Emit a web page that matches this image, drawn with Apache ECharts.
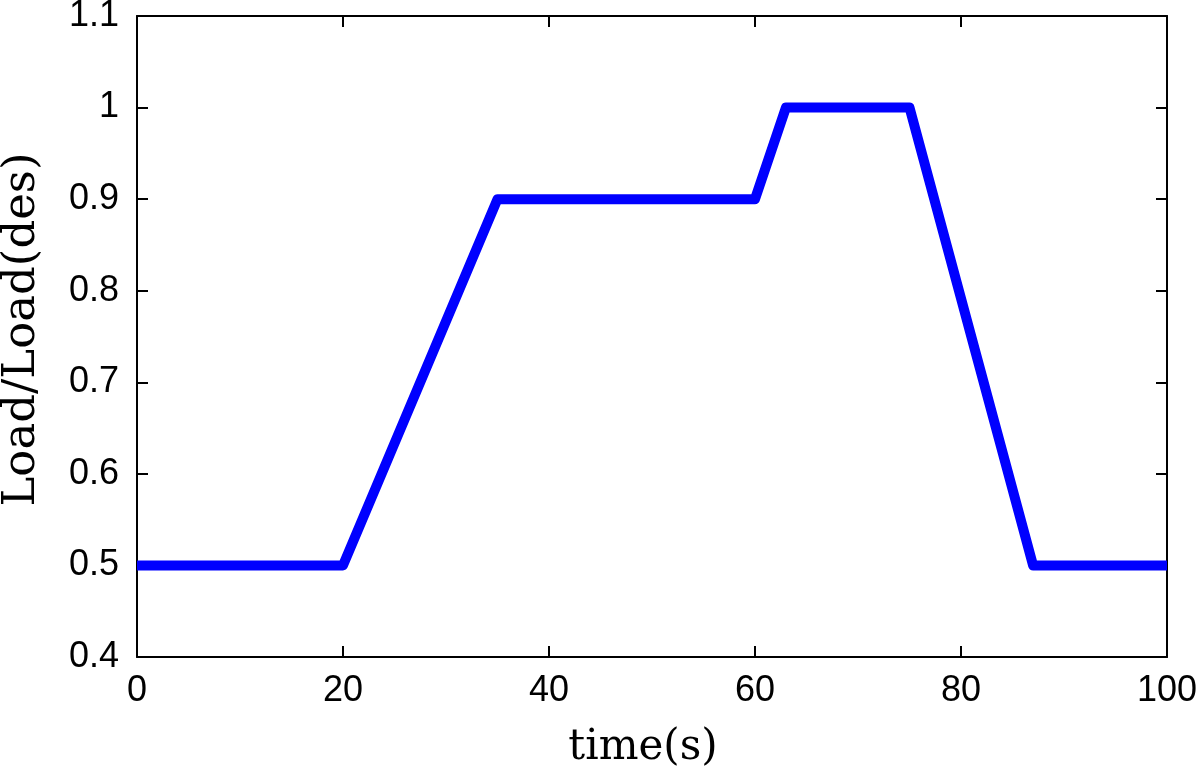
<!DOCTYPE html>
<html>
<head>
<meta charset="utf-8">
<script src="https://cdn.jsdelivr.net/npm/echarts@6/dist/echarts.min.js"></script>
<style>
html,body{margin:0;padding:0;background:#fff;}
#chart{width:1200px;height:779px;}
</style>
</head>
<body>
<div id="chart"></div>
<script>
// Breakpoints (time in s, normalized load)
const timeValues = [0, 20, 35, 60, 63, 75, 87, 100];
const loadValues = [0.5, 0.5, 0.9, 0.9, 1.0, 1.0, 0.5, 0.5];
const xTicks = [0, 20, 40, 60, 80, 100];
const yTicks = [0.4, 0.5, 0.6, 0.7, 0.8, 0.9, 1.0, 1.1];
const xTitle = 'time(s)';
const yTitle = 'Load/Load(des)';

const seriesData = timeValues.map((t, i) => [t, loadValues[i]]);

const chart = echarts.init(document.getElementById('chart'), null, {renderer: 'canvas'});

function axisLine() { return {show: true, onZero: false, lineStyle: {color: '#000', width: 2}}; }
function tick() { return {show: true, inside: true, length: 11, lineStyle: {color: '#000', width: 2}}; }

const option = {
  backgroundColor: '#fff',
  animation: false,
  grid: {left: 137, top: 16, right: 33, bottom: 122, containLabel: false, outerBoundsMode: 'none'},
  xAxis: [
    {
      type: 'value', min: xTicks[0], max: xTicks[xTicks.length - 1], interval: 20,
      position: 'bottom',
      name: xTitle, nameLocation: 'middle', nameGap: 70,
      nameTextStyle: {fontFamily: 'DejaVu Serif', fontSize: 42, color: '#000', padding: [0, 18, 0, 0]},
      axisLine: axisLine(),
      axisTick: tick(),
      axisLabel: {fontFamily: 'Liberation Sans', fontSize: 36, color: '#000', margin: 16,
        formatter: v => String(v)},
      splitLine: {show: false}
    },
    {
      type: 'value', min: xTicks[0], max: xTicks[xTicks.length - 1], interval: 20,
      position: 'top',
      axisLine: axisLine(),
      axisTick: tick(),
      axisLabel: {show: false},
      splitLine: {show: false}
    }
  ],
  yAxis: [
    {
      type: 'value', min: yTicks[0], max: yTicks[yTicks.length - 1], interval: 0.1,
      position: 'left',
      name: yTitle, nameLocation: 'middle', nameGap: 92, nameRotate: 90,
      nameTextStyle: {fontFamily: 'DejaVu Serif', fontSize: 45, color: '#000', padding: [0, 0, 0, 14]},
      axisLine: axisLine(),
      axisTick: tick(),
      axisLabel: {fontFamily: 'Liberation Sans', fontSize: 36, color: '#000', margin: 18,
        formatter: v => {
          const r = Math.round(v * 10) / 10;
          return r === 1 ? '1' : r.toFixed(1);
        }},
      splitLine: {show: false}
    },
    {
      type: 'value', min: yTicks[0], max: yTicks[yTicks.length - 1], interval: 0.1,
      position: 'right',
      axisLine: axisLine(),
      axisTick: tick(),
      axisLabel: {show: false},
      splitLine: {show: false}
    }
  ],
  series: [
    {
      type: 'line',
      data: seriesData,
      xAxisIndex: 0, yAxisIndex: 0,
      showSymbol: false,
      clip: true,
      lineStyle: {color: '#0000ff', width: 10, join: 'round', cap: 'butt'},
      itemStyle: {color: '#0000ff'}
    }
  ]
};

chart.setOption(option);
</script>
</body>
</html>
